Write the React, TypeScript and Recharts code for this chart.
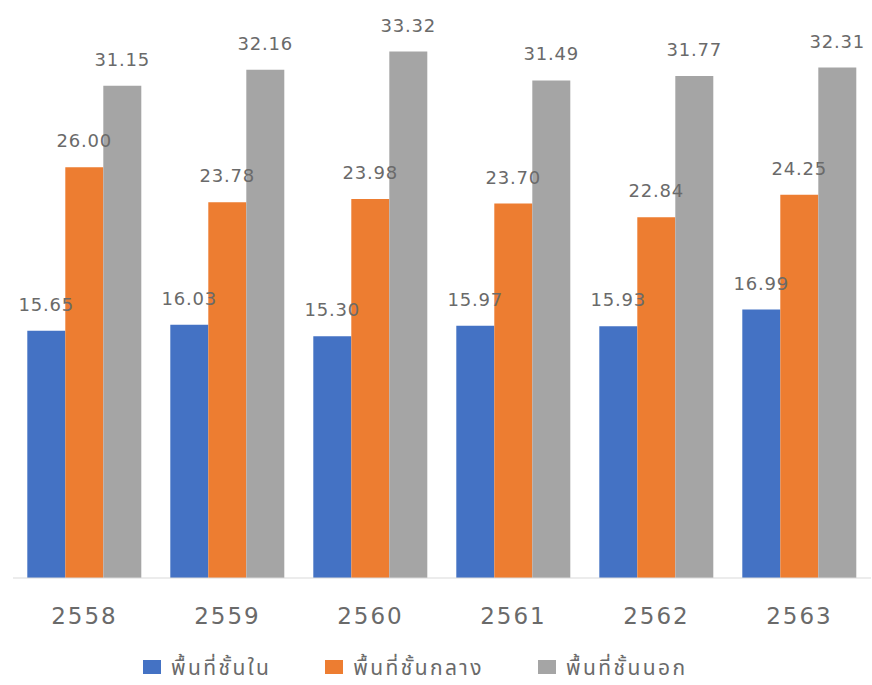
import React from 'react';
import { BarChart, Bar, XAxis, YAxis, Legend, LabelList } from 'recharts';

const years = ['2558', '2559', '2560', '2561', '2562', '2563'];
const inner = [15.65, 16.03, 15.3, 15.97, 15.93, 16.99];
const middle = [26.0, 23.78, 23.98, 23.7, 22.84, 24.25];
const outer = [31.15, 32.16, 33.32, 31.49, 31.77, 32.31];

const seriesNames = ['พื้นที่ชั้นใน', 'พื้นที่ชั้นกลาง', 'พื้นที่ชั้นนอก'];
const colors = ['#4472C4', '#ED7D31', '#A5A5A5'];

const data = years.map((year, i) => ({
  year,
  inner: inner[i],
  middle: middle[i],
  outer: outer[i],
}));

const numFont = '"DejaVu Sans", Lato, sans-serif';
const thaiFont = '"Noto Sans", "Noto Sans Thai", sans-serif';

function LegendRow() {
  return (
    <div
      style={{
        height: 47,
        display: 'flex',
        alignItems: 'center',
        paddingLeft: 130,
        paddingTop: 10,
        gap: 54,
        fontFamily: thaiFont,
        fontSize: 21,
        letterSpacing: 2.4,
        color: '#6a6a6a',
        boxSizing: 'border-box',
      }}
    >
      {seriesNames.map((name, i) => (
        <div key={name} style={{ display: 'flex', alignItems: 'center', lineHeight: '30px' }}>
          <span style={{ width: 18, height: 14, background: colors[i], display: 'inline-block', marginRight: 10 }} />
          {name}
        </div>
      ))}
    </div>
  );
}

const fmt = (v: any) => Number(v).toFixed(2);

export default function App() {
  const keys = ['inner', 'middle', 'outer'];
  return (
    <div style={{ position: 'absolute', left: 0, top: 0, width: 872, height: 685, background: '#fff' }}>
      <BarChart
        width={872}
        height={685}
        data={data}
        margin={{ top: 25, right: 1, left: 13, bottom: 0 }}
        barCategoryGap="10%"
        barGap={0}
      >
        <XAxis
          dataKey="year"
          axisLine={{ stroke: '#D9D9D9' }}
          tickLine={false}
          height={60}
          tick={{ fill: '#6a6a6a', fontSize: 23, fontFamily: numFont, letterSpacing: 2, dy: 22 }}
        />
        <YAxis hide domain={[0, 35]} />
        <Legend verticalAlign="bottom" height={47} content={() => <LegendRow />} />
        {keys.map((k, i) => (
          <Bar key={k} dataKey={k} name={seriesNames[i]} fill={colors[i]} isAnimationActive={false}>
            <LabelList
              dataKey={k}
              position="top"
              offset={20}
              formatter={fmt}
              style={{ fill: '#6a6a6a', fontSize: 18, fontFamily: numFont, letterSpacing: 0.8 }}
            />
          </Bar>
        ))}
      </BarChart>
    </div>
  );
}
